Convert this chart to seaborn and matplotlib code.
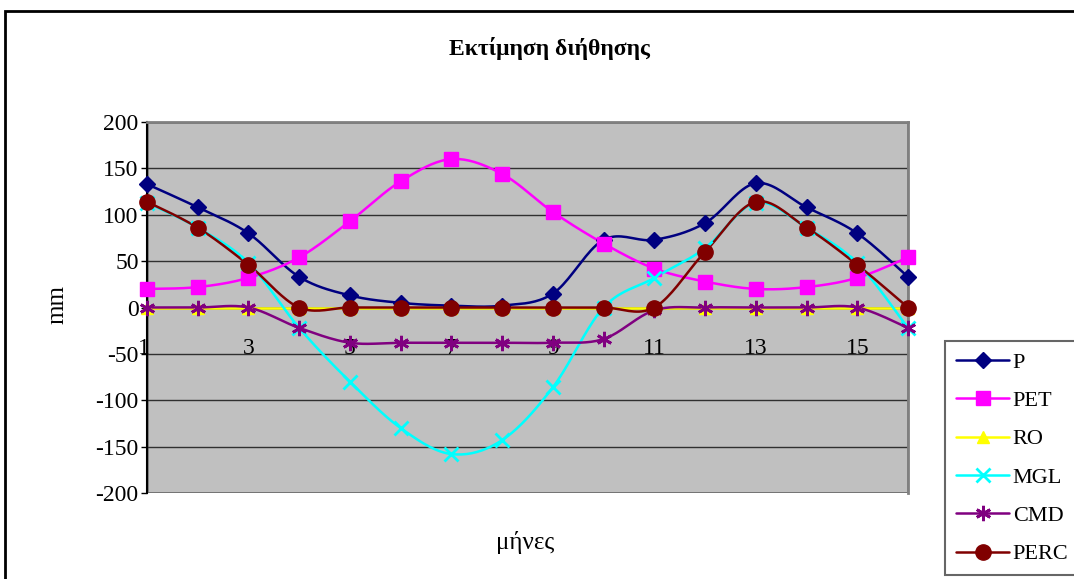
import numpy as np
import pandas as pd
import matplotlib
matplotlib.use("Agg")
import matplotlib.pyplot as plt
import matplotlib.transforms as mtransforms
from matplotlib.lines import Line2D
from matplotlib.patches import Rectangle
import seaborn as sns

# data
months = list(range(1, 17))
P = [133, 108, 80, 33, 13, 5, 2, 2, 15, 73, 73, 91, 134, 108, 80, 33]
PET = [20, 22, 32, 54, 93, 136, 160, 144, 103, 69, 42, 28, 20, 22, 32, 54]
RO = [0] * 16
MGL = [113, 86, 48, -22, -80, -130, -158, -143, -86, 0, 32, 64, 113, 86, 48, -22]
CMD = [0, 0, 0, -22, -38, -38, -38, -38, -38, -34, -3, 0, 0, 0, 0, -22]
PERC = [114, 86, 46, 0, 0, 0, 0, 0, 0, 0, 0, 60, 114, 86, 46, 0]

series = {"P": P, "PET": PET, "RO": RO, "MGL": MGL, "CMD": CMD, "PERC": PERC}
colors = {"P": "#000080", "PET": "#FF00FF", "RO": "#FFFF00",
          "MGL": "#00FFFF", "CMD": "#800080", "PERC": "#800000"}
markers = {"P": "D", "PET": "s", "RO": "^", "MGL": "x", "CMD": (6, 2, 0), "PERC": "o"}
msizes = {"P": 8, "PET": 10, "RO": 9, "MGL": 10, "CMD": 11, "PERC": 11}


def smooth(x, y, n=20):
    # Excel-like smoothed line (Catmull-Rom bezier) for drawing only
    x = np.asarray(x, float)
    y = np.asarray(y, float)
    px = np.concatenate([[x[0]], x, [x[-1]]])
    py = np.concatenate([[y[0]], y, [y[-1]]])
    xs, ys = [], []
    t = np.linspace(0, 1, n, endpoint=False)
    for i in range(1, len(px) - 2):
        p0, p1, p2, p3 = [np.array([px[j], py[j]]) for j in (i - 1, i, i + 1, i + 2)]
        c1 = p1 + (p2 - p0) / 6
        c2 = p2 - (p3 - p1) / 6
        pts = ((1 - t) ** 3)[:, None] * p1 + (3 * (1 - t) ** 2 * t)[:, None] * c1 \
            + (3 * (1 - t) * t ** 2)[:, None] * c2 + (t ** 3)[:, None] * p2
        xs.extend(pts[:, 0])
        ys.extend(pts[:, 1])
    xs.append(x[-1])
    ys.append(y[-1])
    return np.array(xs), np.array(ys)


sns.set_theme(style="white")
plt.rcParams["font.family"] = ["Liberation Serif", "DejaVu Serif"]
plt.rcParams["axes.unicode_minus"] = False
plt.rcParams["text.color"] = "black"
plt.rcParams["xtick.color"] = "black"
plt.rcParams["ytick.color"] = "black"

fig = plt.figure(figsize=(10.74, 5.79), dpi=100)
ax = fig.add_axes([147 / 1074, 86 / 579, 761 / 1074, 371 / 579])
ax.set_facecolor("#C0C0C0")

for name, vals in series.items():
    sx, sy = smooth(months, vals)
    sns.lineplot(x=sx, y=sy, sort=False, color=colors[name], lw=1.8, ax=ax,
                 zorder=3, estimator=None)
    ax.plot(months, vals, ls="none", marker=markers[name], ms=msizes[name],
            color=colors[name], mec=colors[name], mew=2 if name in ("MGL", "CMD") else 1,
            zorder=4, clip_on=False)

ax.set_xlim(1, 16)
ax.set_ylim(-200, 200)
ax.set_yticks(range(-200, 201, 50))
ax.set_xticks(range(1, 16, 2))
ax.yaxis.grid(True, color="#303030", lw=1)
ax.set_axisbelow(True)

ax.spines["bottom"].set_position(("data", 0))
ax.spines["bottom"].set_color("#000000")
ax.spines["bottom"].set_linewidth(1)
ax.spines["left"].set_color("#000000")
ax.spines["left"].set_linewidth(1.5)
for s in ("top", "right"):
    ax.spines[s].set_color("#808080")
    ax.spines[s].set_linewidth(2)

# frame of the plot area below the zero axis
ax.add_patch(Rectangle((0, 0), 1, 1, transform=ax.transAxes, fill=False,
                       ec="#808080", lw=2, zorder=0.5))

ax.tick_params(axis="y", left=True, length=4, width=1, color="black",
               labelsize=17, pad=2, labelcolor="black")
ax.tick_params(axis="x", bottom=True, length=4, width=1, color="black",
               labelsize=17, pad=18, labelcolor="black")

# nudge the "1" label off the y axis line
first = ax.get_xticklabels()[0]
first.set_transform(first.get_transform() +
                    mtransforms.ScaledTranslation(-3 / 100, 0, fig.dpi_scale_trans))

fig.text(525 / 1074, 1 - 543 / 579, "μήνες", ha="center", va="center", fontsize=18)
fig.text(57 / 1074, 1 - 305 / 579, "mm", ha="center", va="center", fontsize=18,
         rotation=90)
fig.text(549 / 1074, 1 - 48 / 579, "Εκτίμηση διήθησης", ha="center", va="center",
         fontsize=17, fontweight="bold")

# outer chart frame
fig.add_artist(Rectangle((5 / 1074, -0.01), 1.0, 1 - 11 / 579 + 0.01,
                         transform=fig.transFigure, fill=False, ec="black", lw=2))

handles = [Line2D([], [], color=colors[n], lw=1.8, marker=markers[n], ms=msizes[n],
                  mec=colors[n], mew=2 if n in ("MGL", "CMD") else 1)
           for n in series]
leg = fig.legend(handles, list(series.keys()), loc="upper left",
                 bbox_to_anchor=(945 / 1074, 1 - 341 / 579), fontsize=16,
                 frameon=True, fancybox=False, edgecolor="#404040",
                 handlelength=2.4, labelspacing=0.8, borderpad=0.5,
                 handletextpad=0.15, borderaxespad=0)
leg.get_frame().set_linewidth(1.5)

fig.savefig("out.png", dpi=100)
